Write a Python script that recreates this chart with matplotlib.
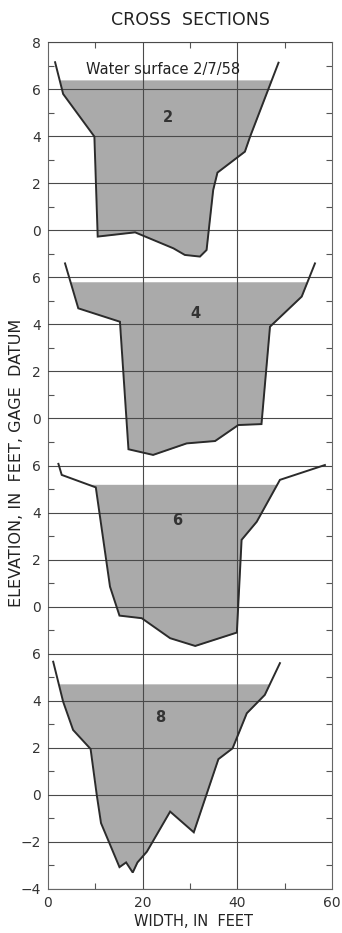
import matplotlib
matplotlib.use("Agg")
import matplotlib.pyplot as plt
import numpy as np

# ---- data (local elevations, ft; width, ft) ----
sec2_x = [1.5, 3.2, 9.8, 10.5, 18.4, 26.5, 28.9, 32.1, 33.5, 34.9, 35.8, 41.6, 42.7, 48.7]
sec2_y = [7.14, 5.79, 3.98, -0.27, -0.09, -0.77, -1.05, -1.12, -0.84, 1.71, 2.45, 3.34, 3.98, 7.12]
sec2_ws = 6.39

sec4_x = [3.6, 6.4, 15.2, 17.0, 22.2, 29.3, 35.3, 40.2, 45.1, 46.9, 53.6, 56.4]
sec4_y = [6.59, 4.68, 4.11, -1.31, -1.55, -1.06, -0.96, -0.28, -0.24, 3.90, 5.18, 6.59]
sec4_ws = 5.81

sec6_x = [2.2, 2.9, 10.1, 13.1, 15.1, 19.8, 25.8, 31.1, 39.9, 40.9, 44.1, 49.0, 58.5]
sec6_y = [6.07, 5.60, 5.07, 0.85, -0.38, -0.49, -1.34, -1.67, -1.10, 2.84, 3.61, 5.39, 6.02]
sec6_ws = 5.20

sec8_x = [1.1, 3.2, 5.3, 9.0, 10.3, 11.2, 15.1, 16.5, 17.9, 18.9, 20.9, 25.8, 30.8, 36.0, 39.0, 42.0, 45.8, 49.0]
sec8_y = [5.66, 3.96, 2.76, 1.95, 0.0, -1.2, -3.07, -2.87, -3.30, -2.87, -2.41, -0.71, -1.59, 1.52, 1.98, 3.47, 4.25, 5.60]
sec8_ws = 4.72

section_names = ["2", "4", "6", "8"]
label_pos_x = [25.4, 31.1, 27.2, 23.7]
label_pos_y = [4.8, 4.44, 3.66, 3.29]
offsets = [0, -8, -16, -24]

ytick_labels = ["8", "6", "4", "2", "0", "6", "4", "2", "0", "6", "4", "2", "0",
                "6", "4", "2", "0", "\u22122", "\u22124"]
xtick_labels = ["0", "20", "40", "60"]

sections = [(sec2_x, sec2_y, sec2_ws), (sec4_x, sec4_y, sec4_ws),
            (sec6_x, sec6_y, sec6_ws), (sec8_x, sec8_y, sec8_ws)]

plt.rcParams['font.family'] = ['DejaVu Sans']

fig = plt.figure(figsize=(3.42, 9.33), dpi=100)
ax = fig.add_axes([48/342, 1 - 889/933, (332-48)/342, (889-42)/933])

ax.set_xlim(0, 60)
ax.set_ylim(-28, 8)

grid_c = "#4a4a4a"
for gy in np.arange(-28, 9, 2):
    ax.axhline(gy, color=grid_c, lw=0.8, zorder=3)
for gx in [20, 40]:
    ax.axvline(gx, color=grid_c, lw=0.8, zorder=3)

fill_c = "#aaaaaa"
line_c = "#2b2b2b"
for (xs, ys, ws), off, name, lx, ly in zip(sections, offsets, section_names, label_pos_x, label_pos_y):
    xs = np.array(xs, dtype=float)
    ys = np.array(ys, dtype=float)
    xf = np.linspace(xs.min(), xs.max(), 2000)
    yf = np.interp(xf, xs, ys)
    ax.fill_between(xf, yf + off, ws + off, where=yf <= ws, color=fill_c,
                    lw=0, zorder=2)
    ax.plot(xs, ys + off, color=line_c, lw=1.4, zorder=4, solid_joinstyle='miter')
    ax.text(lx, ly + off, name, ha='center', va='center', fontsize=10.5,
            fontweight='bold', color="#333333", zorder=5)

ax.text(24.4, 6.85, "Water surface 2/7/58", ha='center', va='center', fontsize=10.5,
        color="#222222", zorder=5)

ax.set_yticks(np.arange(8, -29, -2))
ax.set_yticklabels(ytick_labels)
ax.set_yticks(np.arange(-27, 8, 2), minor=True)
ax.set_xticks([0, 20, 40, 60])
ax.set_xticklabels(xtick_labels)
ax.set_xticks([10, 30, 50], minor=True)

ax.tick_params(axis='both', which='major', length=0, labelsize=10, colors="#333333", pad=5)
ax.tick_params(axis='both', which='minor', direction='in', length=4, width=0.8,
               color="#555555", top=True, right=True, bottom=True, left=True)

for s in ax.spines.values():
    s.set_color("#666666")
    s.set_linewidth(0.8)

fig.text(190/342, 1 - 20/933, "CROSS  SECTIONS", ha='center', va='center', fontsize=12.5,
         color="#222222")
fig.text(17/342, 1 - 463/933, "ELEVATION, IN  FEET, GAGE  DATUM", rotation=90, ha='center',
         va='center', fontsize=11.5, color="#222222")
fig.text(193/342, 1 - 922/933, "WIDTH, IN  FEET", ha='center', va='center', fontsize=10.5,
         color="#222222")

fig.savefig("out.png", dpi=100)
